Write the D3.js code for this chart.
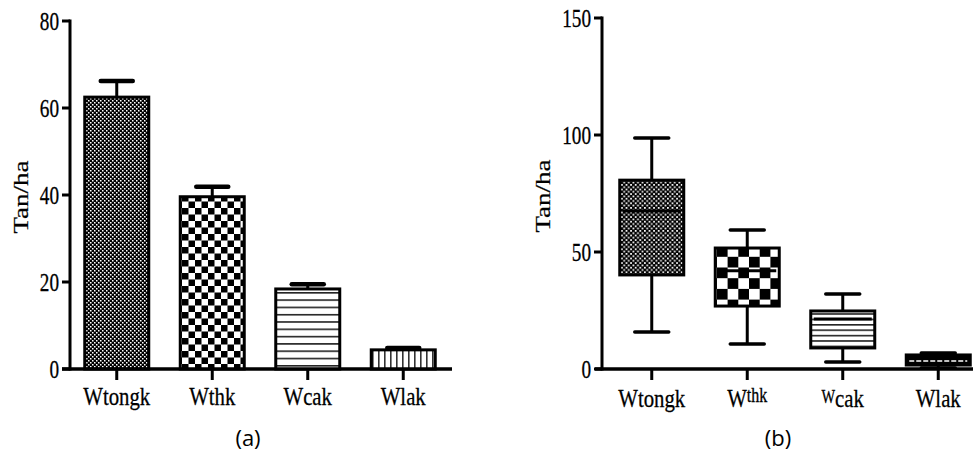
<!DOCTYPE html>
<html>
<head>
<meta charset="utf-8">
<script src="https://cdn.jsdelivr.net/npm/d3@7/dist/d3.min.js"></script>
<style>
body{margin:0;background:#fff;}
svg{display:block;}
text{fill:#000;}
</style>
</head>
<body>
<svg id="chart" width="979" height="455"></svg>
<script>
// ---- data ----
const categories = ["Wtongk", "Wthk", "Wcak", "Wlak"];
// panel (a): means with upper error (mean + SEM)
const meanValues = [62.5, 39.6, 18.4, 4.4];
const errorValues = [3.7, 2.3, 1.1, 0.4];
const ticksA = [0, 20, 40, 60, 80];
// panel (b): box plot statistics
const boxMin = [15.8, 10.7, 3.0, 0.4];
const boxQ1 = [40.2, 26.9, 9.0, 1.7];
const boxMedian = [67.5, 42.0, 21.4, 3.4];
const boxQ3 = [80.7, 51.7, 24.8, 6.0];
const boxMax = [98.7, 59.4, 32.0, 6.8];
const ticksB = [0, 50, 100, 150];
const yLabel = "Tan/ha";
const panelLabels = ["(a)", "(b)"];

const svg = d3.select("#chart");
const serif = "'Liberation Serif','Times New Roman',serif";
const defs = svg.append("defs");

function checker(id, size) {
  const p = defs.append("pattern").attr("id", id).attr("patternUnits", "userSpaceOnUse")
    .attr("width", size * 2).attr("height", size * 2);
  p.append("rect").attr("width", size * 2).attr("height", size * 2).attr("fill", "#fff");
  p.append("rect").attr("x", 0).attr("y", 0).attr("width", size).attr("height", size).attr("fill", "#000");
  p.append("rect").attr("x", size).attr("y", size).attr("width", size).attr("height", size).attr("fill", "#000");
}
function fine(id, size, frac) {
  const p = defs.append("pattern").attr("id", id).attr("patternUnits", "userSpaceOnUse")
    .attr("width", size).attr("height", size);
  p.append("rect").attr("width", size).attr("height", size).attr("fill", "#000");
  p.append("rect").attr("x", 0).attr("y", 0).attr("width", size * frac).attr("height", size * frac).attr("fill", "#fff");
  p.append("rect").attr("x", size / 2).attr("y", size / 2).attr("width", size * frac).attr("height", size * frac).attr("fill", "#fff");
}
function hlines(id, gap, w) {
  const p = defs.append("pattern").attr("id", id).attr("patternUnits", "userSpaceOnUse")
    .attr("width", 10).attr("height", gap);
  p.append("rect").attr("width", 10).attr("height", gap).attr("fill", "#fff");
  p.append("rect").attr("x", 0).attr("y", 0).attr("width", 10).attr("height", w).attr("fill", "#222");
}
function vlines(id, gap, w) {
  const p = defs.append("pattern").attr("id", id).attr("patternUnits", "userSpaceOnUse")
    .attr("width", gap).attr("height", 10);
  p.append("rect").attr("width", gap).attr("height", 10).attr("fill", "#fff");
  p.append("rect").attr("x", 0).attr("y", 0).attr("width", w).attr("height", 10).attr("fill", "#333");
}
fine("fineA", 4, 0.38);
checker("checkA", 6.5);
hlines("hA", 7.3, 1.6);
vlines("vA", 6, 1.6);
fine("fineB", 4.6, 0.38);
checker("checkB", 10.7);
hlines("hB", 5.4, 1.6);

const fillsA = ["url(#fineA)", "url(#checkA)", "url(#hA)", "url(#vA)"];
const fillsB = ["url(#fineB)", "url(#checkB)", "url(#hB)", "#000"];

function drawAxes(g, x, y, ticks, axisX0, axisX1, yAxisX, labelX, labelY) {
  g.append("line").attr("x1", yAxisX).attr("x2", yAxisX)
    .attr("y1", y(ticks[ticks.length - 1]) - 1.5).attr("y2", y(0) + 1.5)
    .attr("stroke", "#000").attr("stroke-width", 3);
  ticks.forEach(t => {
    g.append("line").attr("x1", yAxisX - 8).attr("x2", yAxisX)
      .attr("y1", y(t)).attr("y2", y(t)).attr("stroke", "#000").attr("stroke-width", 3);
    g.append("text").attr("transform", `translate(${yAxisX - 11},${y(t) + 8.5}) scale(0.74,1)`)
      .attr("text-anchor", "end").attr("font-family", serif).attr("font-size", 26)
      .attr("stroke", "#000").attr("stroke-width", 0.3).text(t);
  });
  g.append("line").attr("x1", axisX0).attr("x2", axisX1)
    .attr("y1", y(0)).attr("y2", y(0)).attr("stroke", "#000").attr("stroke-width", 3);
  categories.forEach(c => {
    g.append("line").attr("x1", x(c)).attr("x2", x(c))
      .attr("y1", y(0)).attr("y2", y(0) + 11).attr("stroke", "#000").attr("stroke-width", 3);
  });
  g.append("text").attr("transform", `translate(${labelX},${labelY}) scale(0.8,1) rotate(-90)`)
    .attr("text-anchor", "middle").attr("font-family", serif).attr("font-size", 27)
    .attr("stroke", "#000").attr("stroke-width", 0.3).text(yLabel);
}

function catLabel(g, x, yb, c, variant) {
  const t = g.append("text").attr("transform", `translate(${x},${yb}) scale(0.8,1)`)
    .attr("text-anchor", "middle").attr("font-family", serif).attr("font-size", 26)
    .attr("stroke", "#000").attr("stroke-width", 0.3);
  if (variant && c === "Wthk") {
    t.append("tspan").text("W");
    t.append("tspan").attr("font-size", 20).attr("dy", -5).text("thk");
  } else if (variant && c === "Wcak") {
    t.append("tspan").attr("font-size", 18).attr("dy", -4).text("W");
    t.append("tspan").attr("dy", 4).text("cak");
  } else {
    t.text(c);
  }
}

// ---- panel (a) ----
const gA = svg.append("g");
const xA = d3.scalePoint().domain(categories).range([69, 451]).padding(0.5);
const yA = d3.scaleLinear().domain([0, 80]).range([369, 21]);
const bwA = 64;

drawAxes(gA, xA, yA, ticksA, 62, 452, 70, 28, 197);

categories.forEach((c, i) => {
  const cx = xA(c);
  const top = yA(meanValues[i] + errorValues[i]);
  gA.append("line").attr("x1", cx).attr("x2", cx).attr("y1", yA(meanValues[i])).attr("y2", top)
    .attr("stroke", "#000").attr("stroke-width", 3);
  gA.append("line").attr("x1", cx - 16).attr("x2", cx + 16).attr("y1", top).attr("y2", top)
    .attr("stroke", "#000").attr("stroke-width", 4.5).attr("stroke-linecap", "round");
  gA.append("rect").attr("x", cx - bwA / 2).attr("y", yA(meanValues[i]))
    .attr("width", bwA).attr("height", yA(0) - yA(meanValues[i]))
    .attr("fill", fillsA[i]).attr("stroke", "#000").attr("stroke-width", 3);
  catLabel(gA, cx, 405, c, false);
});
gA.append("line").attr("x1", 62).attr("x2", 452).attr("y1", yA(0)).attr("y2", yA(0))
  .attr("stroke", "#000").attr("stroke-width", 3);

gA.append("text").attr("x", 248).attr("y", 446).attr("text-anchor", "middle")
  .attr("font-family", "'Open Sans','Liberation Sans',sans-serif").attr("font-size", 22)
  .text(panelLabels[0]);

// ---- panel (b) ----
const gB = svg.append("g");
const xB = d3.scalePoint().domain(categories).range([604, 986]).padding(0.5);
const yB = d3.scaleLinear().domain([0, 150]).range([369, 18]);
const bwB = 64;
const capW = 34;

drawAxes(gB, xB, yB, ticksB, 595, 973, 602, 550, 196);

categories.forEach((c, i) => {
  const cx = xB(c);
  gB.append("line").attr("x1", cx).attr("x2", cx).attr("y1", yB(boxMax[i])).attr("y2", yB(boxMin[i]))
    .attr("stroke", "#000").attr("stroke-width", 3);
  [boxMax[i], boxMin[i]].forEach(v => {
    gB.append("line").attr("x1", cx - capW / 2).attr("x2", cx + capW / 2).attr("y1", yB(v)).attr("y2", yB(v))
      .attr("stroke", "#000").attr("stroke-width", 3.5).attr("stroke-linecap", "round");
  });
  gB.append("rect").attr("x", cx - bwB / 2).attr("y", yB(boxQ3[i]))
    .attr("width", bwB).attr("height", yB(boxQ1[i]) - yB(boxQ3[i]))
    .attr("fill", fillsB[i]).attr("stroke", "#000").attr("stroke-width", 3);
  const med = gB.append("line").attr("x1", cx - bwB / 2 + 3).attr("x2", cx + bwB / 2 - 3)
    .attr("y1", yB(boxMedian[i])).attr("y2", yB(boxMedian[i]))
    .attr("stroke", i === 3 ? "#fff" : "#000").attr("stroke-width", i === 3 ? 1.5 : 3);
  if (i === 3) med.attr("stroke-dasharray", "5,2");
  catLabel(gB, cx, 407, c, true);
});
gB.append("line").attr("x1", 595).attr("x2", 973).attr("y1", yB(0)).attr("y2", yB(0))
  .attr("stroke", "#000").attr("stroke-width", 3);

gB.append("text").attr("x", 778).attr("y", 446).attr("text-anchor", "middle")
  .attr("font-family", "'Open Sans','Liberation Sans',sans-serif").attr("font-size", 22)
  .text(panelLabels[1]);
</script>
</body>
</html>
